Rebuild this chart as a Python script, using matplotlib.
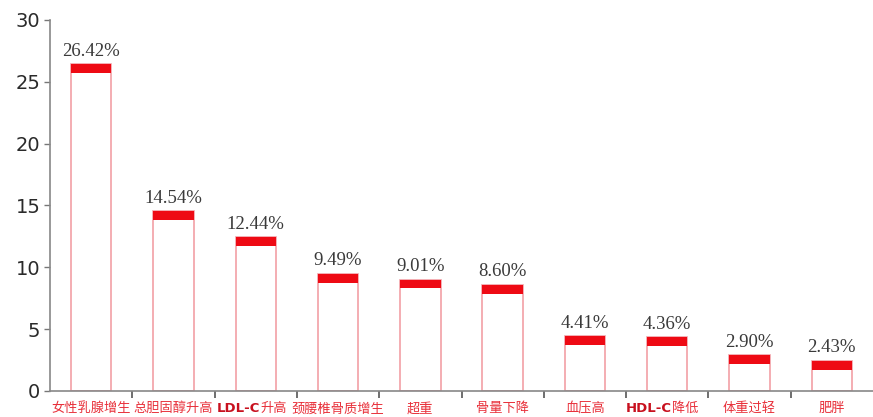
import numpy as np
import matplotlib
matplotlib.use("Agg")
import matplotlib.pyplot as plt
from matplotlib import transforms

plt.rcParams['font.family'] = ['Noto Sans CJK SC', 'DejaVu Sans']

# data
categories = ["女性乳腺增生", "总胆固醇升高", "LDL-C升高", "颈腰椎骨质增生", "超重",
              "骨量下降", "血压高", "HDL-C降低", "体重过轻", "肥胖"]
values = [26.42, 14.54, 12.44, 9.49, 9.01, 8.60, 4.41, 4.36, 2.90, 2.43]
yticks = [0, 5, 10, 15, 20, 25, 30]

fig = plt.figure(figsize=(8.73, 4.17), dpi=100)
ax = fig.add_axes([50 / 873, 26 / 417, 823 / 873, 371 / 417])

x = np.arange(len(categories))
bar_w = 0.49
cap = 0.72

# white bars with thin pink outline
ax.bar(x, values, width=bar_w, color="white", edgecolor="#f2a0a6", linewidth=1.2, zorder=2)
# thick red cap on top
ax.bar(x, [cap] * len(values), bottom=[v - cap for v in values], width=bar_w,
       color="#ee0a14", linewidth=0, zorder=3)

for xi, v in zip(x, values):
    ax.text(xi, v + 1.05, f"{v:.2f}%", ha="center", va="center",
            family="Liberation Serif", fontsize=13.5, color="#3a3a3a")

ax.set_xlim(-0.5, len(categories) - 0.5)
ax.set_ylim(0, 30)
ax.set_yticks(yticks)
ax.set_yticklabels([str(t) for t in yticks], family="DejaVu Sans")
ax.set_xticks(np.arange(0.5, len(categories) - 0.5, 1))
ax.set_xticklabels([])
ax.tick_params(axis="y", labelsize=14, labelcolor="#2a2a2a", length=4, width=1,
               color="#777777", pad=3)
ax.tick_params(axis="x", length=5, width=1.2, color="#555555", direction="out")
for s in ["top", "right"]:
    ax.spines[s].set_visible(False)
for s in ["left", "bottom"]:
    ax.spines[s].set_color("#888888")
    ax.spines[s].set_linewidth(1.2)

# category labels, LDL-C / HDL-C part in bold
trans = transforms.blended_transform_factory(ax.transData, ax.transAxes)
label_y = -0.048
for xi, lab in zip(x, categories):
    if lab.startswith(("LDL-C", "HDL-C")):
        head, tail = lab[:5], lab[5:]
        # head ~36px, tail ~13.5px per char, keep whole label centred
        total = 36 + 13.5 * len(tail)
        split = -total / 2 + 36
        t1 = transforms.offset_copy(trans, fig=fig, x=split, y=0, units="dots")
        ax.text(xi, label_y, head, transform=t1, ha="right", va="center",
                family="DejaVu Sans", fontweight="bold", fontsize=9.5, color="#c8101e")
        ax.text(xi, label_y, tail, transform=t1, ha="left", va="center",
                fontsize=9.5, color="#e8303a")
    else:
        ax.text(xi, label_y, lab, transform=trans, ha="center", va="center",
                fontsize=9.5, color="#e8303a")

fig.savefig("out.png", dpi=100)
